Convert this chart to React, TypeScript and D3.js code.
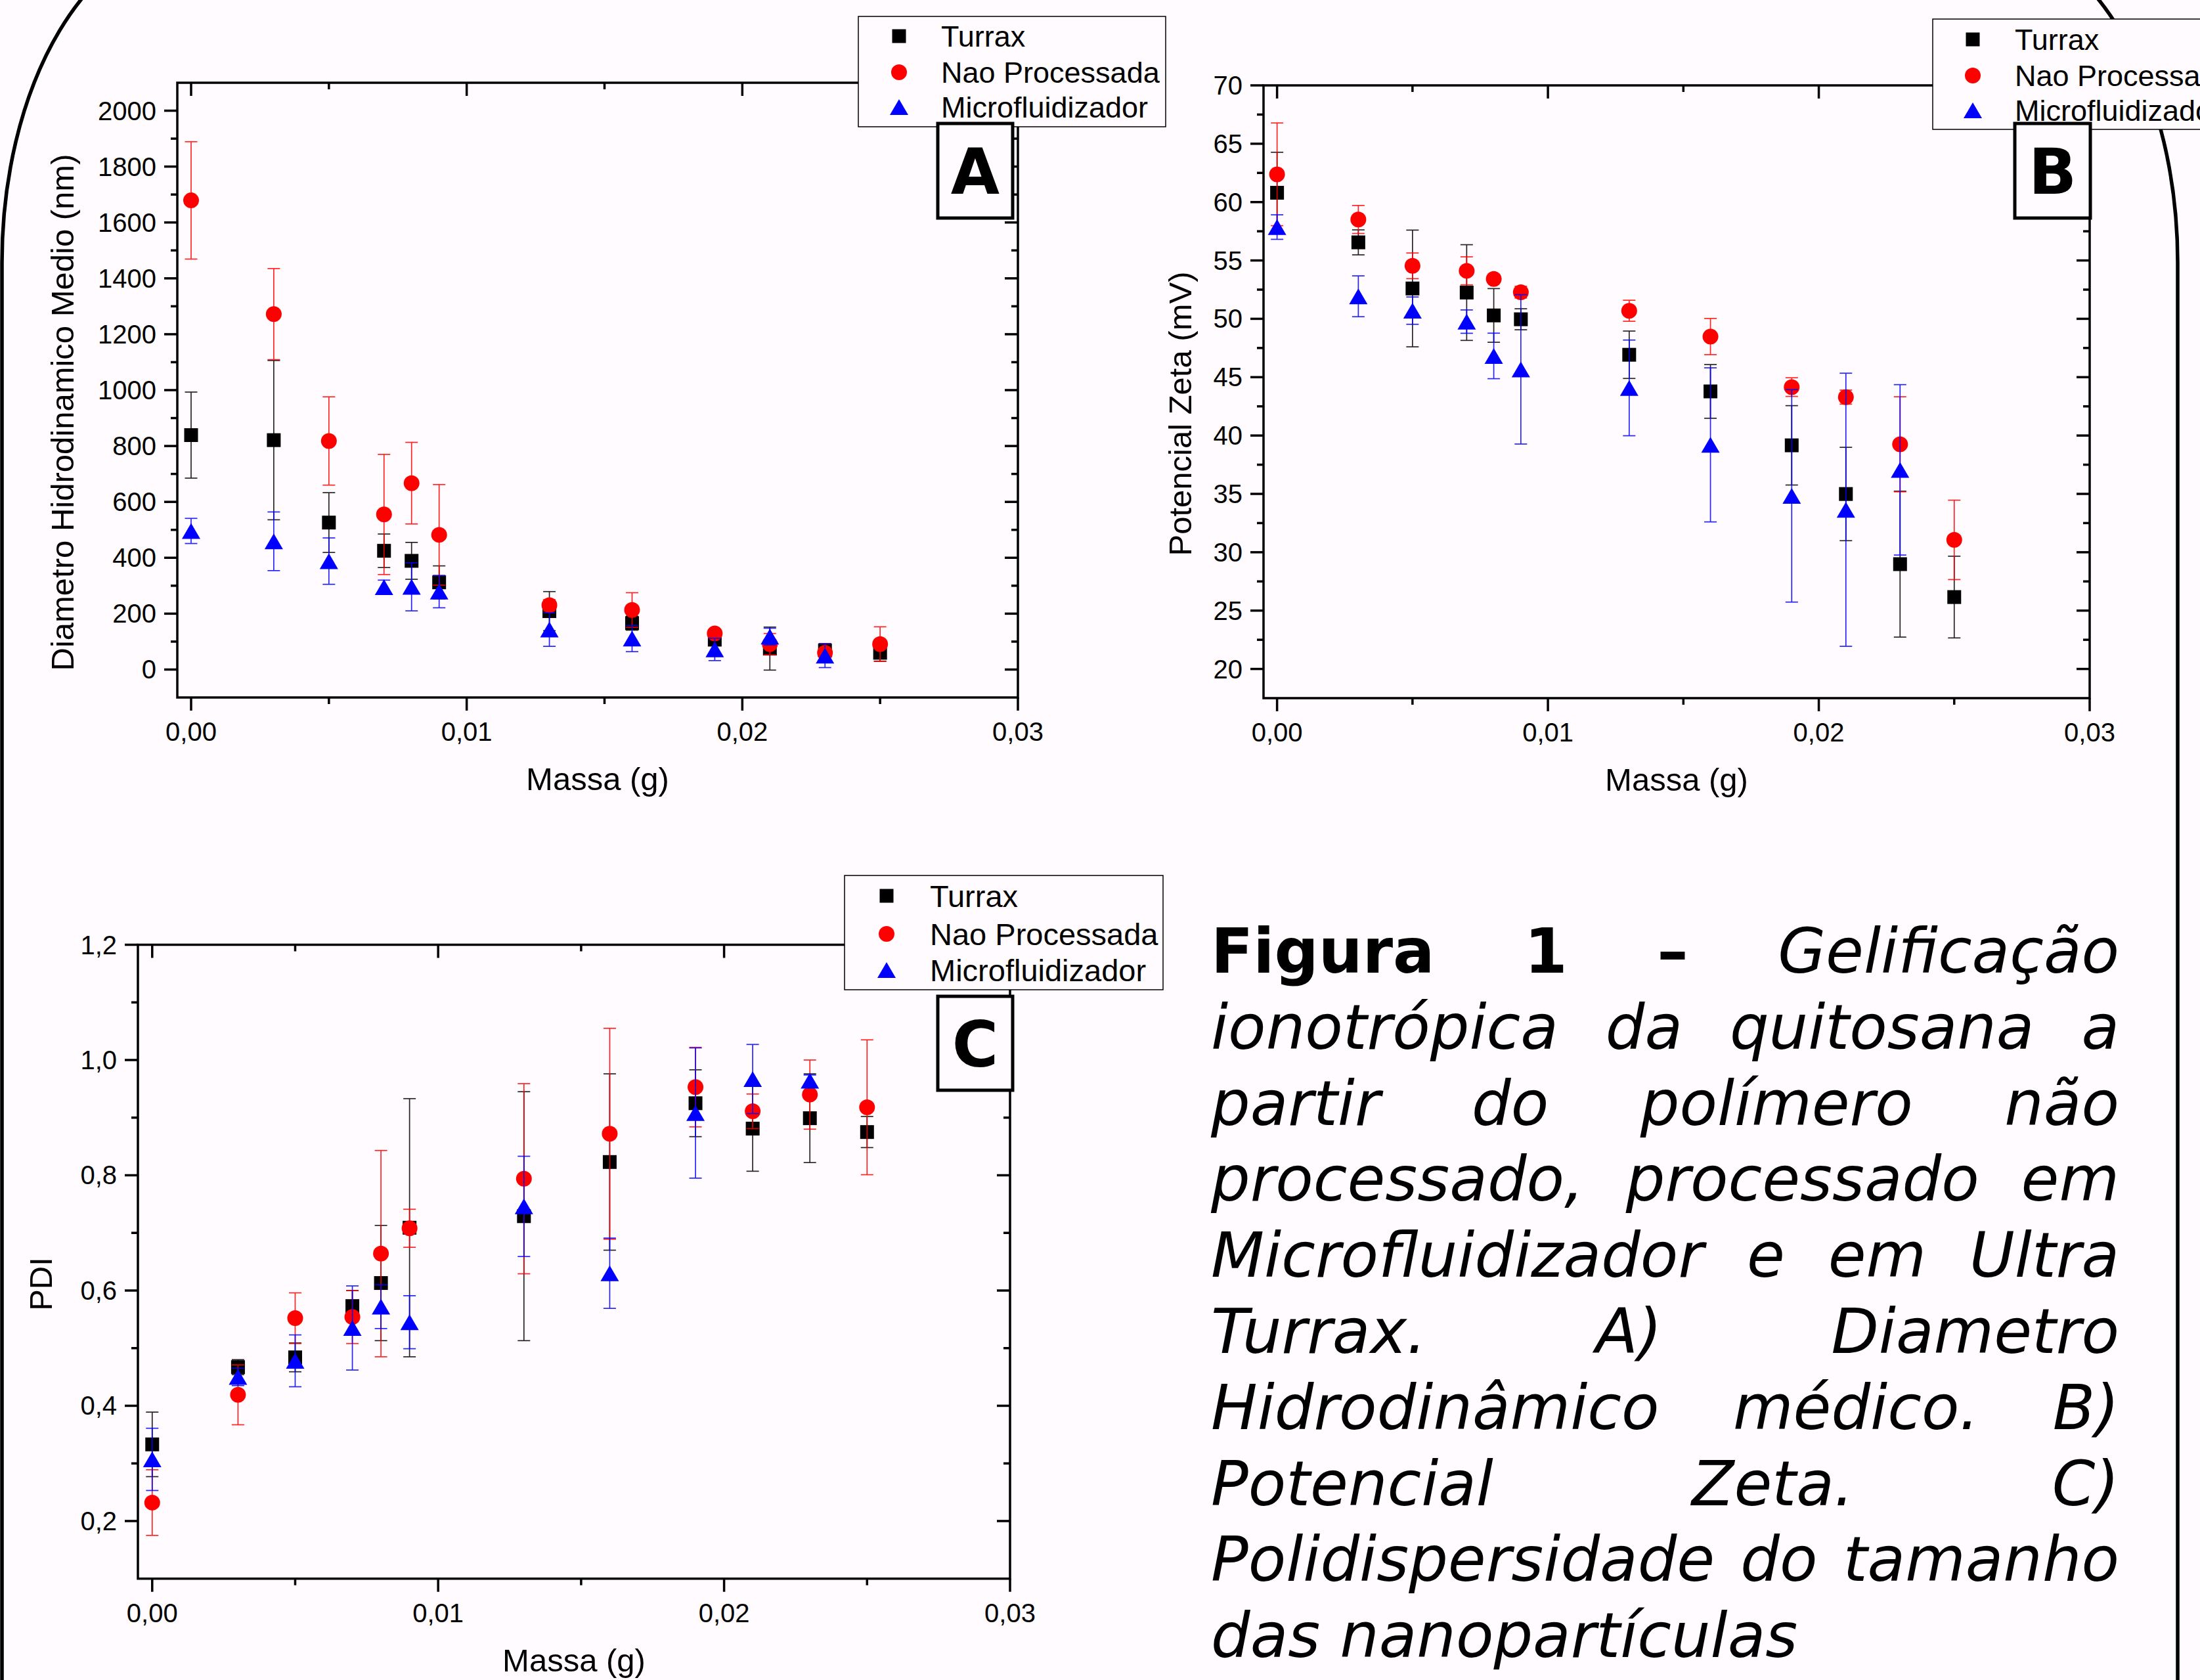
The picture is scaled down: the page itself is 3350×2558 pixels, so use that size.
import React, { useEffect, useMemo } from 'react';
import * as d3 from 'd3';

// ---------------- DATA ----------------
const mass = [0, 0.003, 0.005, 0.007, 0.008, 0.009, 0.013, 0.016, 0.019, 0.021, 0.023, 0.025];
const massMicro = [0, 0.003, 0.005, 0.007, 0.008, 0.009, 0.013, 0.016, 0.019, 0.021, 0.023];

const seriesNames = ['Turrax', 'Nao Processada', 'Microfluidizador'];

// Panel A - Diametro hidrodinamico medio (nm)
const turraxD = [839, 821, 526, 425, 389, 312, 209, 166, 107, 75, 68, 60];
const turraxDErr = [154, 285, 107, 60, 66, 59, 70, 25, 20, 77, 15, 30];
const naoD = [1679, 1272, 818, 555, 667, 482, 230, 213, 129, 91, 60, 91];
const naoDErr = [210, 163, 158, 215, 146, 180, 20, 62, 10, 38, 33, 62];
const microD = [496, 459, 388, 295, 296, 279, 143, 111, 72, 118, 50];
const microDErr = [45, 105, 83, 25, 86, 58, 60, 47, 40, 30, 43];

// Panel B - Potencial Zeta (mV)
const turraxZ = [60.8, 56.55, 52.6, 52.25, 50.29, 49.96, 46.92, 43.78, 39.16, 34.99, 28.98, 26.16];
const turraxZErr = [3.47, 1.07, 5.0, 4.1, 2.3, 0.9, 2.03, 2.3, 3.4, 4.0, 6.25, 3.5];
const naoZ = [62.38, 58.51, 54.54, 54.11, 53.41, 52.28, 50.69, 48.48, 44.15, 43.29, 39.25, 31.06];
const naoZErr = [4.4, 1.2, 1.1, 1.2, 0.3, 0.5, 0.9, 1.55, 0.8, 0.6, 4.07, 3.4];
const microZ = [57.86, 51.93, 50.7, 49.76, 46.82, 45.67, 44.08, 39.2, 34.83, 33.64, 37.06];
const microZErr = [1.05, 1.75, 1.17, 1.0, 1.95, 6.4, 4.1, 6.6, 9.1, 11.7, 7.3];

// Panel C - PDI
const turraxP = [0.333, 0.467, 0.484, 0.573, 0.613, 0.709, 0.729, 0.823, 0.925, 0.881, 0.899, 0.875];
const turraxPErr = [0.056, 0.013, 0.025, 0.027, 0.1, 0.224, 0.216, 0.153, 0.058, 0.074, 0.077, 0.027];
const naoP = [0.232, 0.419, 0.552, 0.554, 0.664, 0.708, 0.794, 0.872, 0.953, 0.911, 0.94, 0.918];
const naoPErr = [0.057, 0.052, 0.044, 0.046, 0.179, 0.033, 0.165, 0.183, 0.069, 0.03, 0.06, 0.117];
const microP = [0.307, 0.45, 0.478, 0.535, 0.572, 0.545, 0.746, 0.63, 0.908, 0.967, 0.964];
const microPErr = [0.054, 0.015, 0.045, 0.073, 0.038, 0.046, 0.087, 0.061, 0.113, 0.06, 0.01];

const xMajor = [0, 0.01, 0.02, 0.03];
const xMinor = [0.005, 0.015, 0.025];

const captionLines = [
  [['Figura', 'b'], ['1', 'b'], ['–', 'b'], ['Gelificação', 'i']],
  [['ionotrópica', 'i'], ['da', 'i'], ['quitosana', 'i'], ['a', 'i']],
  [['partir', 'i'], ['do', 'i'], ['polímero', 'i'], ['não', 'i']],
  [['processado,', 'i'], ['processado', 'i'], ['em', 'i']],
  [['Microfluidizador', 'i'], ['e', 'i'], ['em', 'i'], ['Ultra', 'i']],
  [['Turrax.', 'i'], ['A)', 'i'], ['Diametro', 'i']],
  [['Hidrodinâmico', 'i'], ['médico.', 'i'], ['B)', 'i']],
  [['Potencial', 'i'], ['Zeta.', 'i'], ['C)', 'i']],
  [['Polidispersidade', 'i'], ['do', 'i'], ['tamanho', 'i']],
  [['das', 'i'], ['nanopartículas', 'i']],
];

// ---------------- STYLE ----------------
const W = 3350;
const H = 2558;
const BG = '#fffbfe';
const COLORS = ['#000000', '#ff0000', '#0000ff'];
const FONT = "'Liberation Sans', Arial, sans-serif";
const CAP_FONT = "'DejaVu Sans', Verdana, sans-serif";

function Marker({ kind, cx, cy, color }) {
  if (kind === 0) return <rect x={cx - 10.5} y={cy - 10.5} width={21} height={21} fill={color} />;
  if (kind === 1) return <circle cx={cx} cy={cy} r={12} fill={color} />;
  const w = 28, h = 24;
  return <path d={`M${cx},${cy - h / 2}L${cx + w / 2},${cy + h / 2}L${cx - w / 2},${cy + h / 2}Z`} fill={color} />;
}

function Panel({ box, yDomain, yMajor, yMinor, yFmt, data, yTitle, yTitlePos, legend, label }) {
  const x = d3.scaleLinear().domain([-0.0005, 0.03]).range([box.left, box.right]);
  const y = d3.scaleLinear().domain(yDomain).range([box.bottom, box.top]);
  const sw = 3.5;
  const tickMaj = 20, tickMin = 10;
  const cap = 9.5;
  const xf = (d) => d.toFixed(2).replace('.', ',');
  return (
    <g>
      {/* data */}
      {data.map((s, si) => (
        <g key={si}>
          {s.xs.map((xv, i) => {
            const cx = x(xv);
            const y1 = y(s.ys[i] + s.err[i]);
            const y2 = y(s.ys[i] - s.err[i]);
            return (
              <g key={'e' + i} stroke={COLORS[si]} strokeWidth={1.7} opacity={0.85}>
                <line x1={cx} x2={cx} y1={y1} y2={y2} />
                <line x1={cx - cap} x2={cx + cap} y1={y1} y2={y1} />
                <line x1={cx - cap} x2={cx + cap} y1={y2} y2={y2} />
              </g>
            );
          })}
          {s.xs.map((xv, i) => (
            <Marker key={'m' + i} kind={si} cx={x(xv)} cy={y(s.ys[i])} color={COLORS[si]} />
          ))}
        </g>
      ))}
      {/* frame */}
      <rect x={box.left} y={box.top} width={box.right - box.left} height={box.bottom - box.top}
        fill="none" stroke="#000" strokeWidth={sw} />
      {/* x ticks */}
      {xMajor.map((t) => (
        <g key={'xM' + t} stroke="#000" strokeWidth={sw}>
          <line x1={x(t)} x2={x(t)} y1={box.bottom} y2={box.bottom + tickMaj} />
          <line x1={x(t)} x2={x(t)} y1={box.top} y2={box.top + tickMaj} />
        </g>
      ))}
      {xMinor.map((t) => (
        <g key={'xm' + t} stroke="#000" strokeWidth={sw}>
          <line x1={x(t)} x2={x(t)} y1={box.bottom} y2={box.bottom + tickMin} />
          <line x1={x(t)} x2={x(t)} y1={box.top} y2={box.top + tickMin} />
        </g>
      ))}
      {xMajor.map((t) => (
        <text key={'xl' + t} x={x(t)} y={box.bottom + 66} textAnchor="middle" fontFamily={FONT} fontSize={40}>{xf(t)}</text>
      ))}
      {/* y ticks */}
      {yMajor.map((t) => (
        <g key={'yM' + t} stroke="#000" strokeWidth={sw}>
          <line x1={box.left} x2={box.left - tickMaj} y1={y(t)} y2={y(t)} />
          <line x1={box.right} x2={box.right - tickMaj} y1={y(t)} y2={y(t)} />
        </g>
      ))}
      {yMinor.map((t) => (
        <g key={'ym' + t} stroke="#000" strokeWidth={sw}>
          <line x1={box.left} x2={box.left - tickMin} y1={y(t)} y2={y(t)} />
          <line x1={box.right} x2={box.right - tickMin} y1={y(t)} y2={y(t)} />
        </g>
      ))}
      {yMajor.map((t) => (
        <text key={'yl' + t} x={box.left - 32} y={y(t) + 14} textAnchor="end" fontFamily={FONT} fontSize={40}>{yFmt(t)}</text>
      ))}
      {/* titles */}
      <text x={(box.left + box.right) / 2} y={box.bottom + 141} textAnchor="middle" fontFamily={FONT} fontSize={49}>Massa (g)</text>
      <text transform={`translate(${yTitlePos[0]},${yTitlePos[1]}) rotate(-90)`} textAnchor="middle" fontFamily={FONT} fontSize={49}>{yTitle}</text>
      {/* legend */}
      <rect x={legend.x} y={legend.y} width={legend.w} height={legend.h} fill={BG} stroke="#000" strokeWidth={1.5} />
      {seriesNames.map((n, i) => (
        <g key={'lg' + i}>
          <Marker kind={i} cx={legend.sx} cy={legend.rows[i]} color={COLORS[i]} />
          <text x={legend.tx} y={legend.rows[i] + legend.fs * 0.36} fontFamily={FONT} fontSize={legend.fs}>{n}</text>
        </g>
      ))}
      {/* label box */}
      <rect x={label.x} y={label.y} width={label.w} height={label.h} fill={BG} stroke="#000" strokeWidth={5} />
      <text x={label.x + label.w / 2} y={label.y + label.h / 2 + 35} textAnchor="middle"
        fontFamily={CAP_FONT} fontWeight="bold" fontSize={96}>{label.t}</text>
    </g>
  );
}

function Caption() {
  const left = 1844, right = 3227, base0 = 1481, gap = 115.8, fs = 94;
  const layout = useMemo(() => {
    const cv = document.createElement('canvas');
    const ctx = cv.getContext('2d');
    return captionLines.map((words, li) => {
      const widths = words.map(([w, s]) => {
        ctx.font = (s === 'b' ? 'bold ' : 'italic ') + fs + "px 'DejaVu Sans'";
        return ctx.measureText(w).width;
      });
      const total = widths.reduce((a, b) => a + b, 0);
      const last = li === captionLines.length - 1;
      const sp = last ? fs * 0.318 : (right - left - total) / Math.max(1, words.length - 1);
      let cx = left;
      return words.map(([w, s], i) => {
        const pos = cx;
        cx += widths[i] + sp;
        return { w, s, x: pos };
      });
    });
  }, []);
  return (
    <g>
      {layout.map((line, li) => line.map((wd, wi) => (
        <text key={li + '-' + wi} x={wd.x} y={base0 + li * gap} fontFamily={CAP_FONT} fontSize={fs}
          fontStyle={wd.s === 'i' ? 'italic' : 'normal'} fontWeight={wd.s === 'b' ? 'bold' : 'normal'}>{wd.w}</text>
      )))}
    </g>
  );
}

export default function App() {
  useEffect(() => {
    document.body.style.margin = '0';
    document.body.style.background = BG;
  }, []);

  const mk = (a, ae, b, be, c, ce) => [
    { xs: mass, ys: a, err: ae },
    { xs: mass, ys: b, err: be },
    { xs: massMicro, ys: c, err: ce },
  ];

  return (
    <svg width={W} height={H} viewBox={`0 0 ${W} ${H}`} style={{ position: 'absolute', left: 0, top: 0, display: 'block' }}>
      <rect x={0} y={0} width={W} height={H} fill={BG} />
      {/* decorative outer frame */}
      <path d="M3,2600 L3,400 A300,500 0 0 1 303,-100 L3016,-100 A300,500 0 0 1 3316,400 L3316,2600"
        fill="none" stroke="#000" strokeWidth={5.5} />
      <Panel
        box={{ left: 270, right: 1550, top: 126, bottom: 1062 }}
        yDomain={[-100, 2100]}
        yMajor={d3.range(0, 2001, 200)}
        yMinor={d3.range(100, 2001, 200)}
        yFmt={(d) => String(d)}
        data={mk(turraxD, turraxDErr, naoD, naoDErr, microD, microDErr)}
        yTitle="Diametro Hidrodinamico Medio (nm)"
        yTitlePos={[112, 628]}
        legend={{ x: 1307, y: 25, w: 468, h: 168, sx: 1369, tx: 1433, rows: [55, 110, 163], fs: 45 }}
        label={{ x: 1428, y: 188, w: 114, h: 144, t: 'A' }}
      />
      <Panel
        box={{ left: 1924, right: 3182, top: 130, bottom: 1063 }}
        yDomain={[17.5, 70]}
        yMajor={d3.range(20, 70.1, 5)}
        yMinor={d3.range(22.5, 70, 5)}
        yFmt={(d) => String(d)}
        data={mk(turraxZ, turraxZErr, naoZ, naoZErr, microZ, microZErr)}
        yTitle="Potencial Zeta (mV)"
        yTitlePos={[1814, 630]}
        legend={{ x: 2943, y: 29, w: 468, h: 168, sx: 3004, tx: 3068, rows: [60, 115, 168], fs: 45 }}
        label={{ x: 3068, y: 188, w: 115, h: 144, t: 'B' }}
      />
      <Panel
        box={{ left: 210, right: 1538, top: 1438.5, bottom: 2403.7 }}
        yDomain={[0.1, 1.2]}
        yMajor={[0.2, 0.4, 0.6, 0.8, 1.0, 1.2]}
        yMinor={[0.3, 0.5, 0.7, 0.9, 1.1]}
        yFmt={(d) => d.toFixed(1).replace('.', ',')}
        data={mk(turraxP, turraxPErr, naoP, naoPErr, microP, microPErr)}
        yTitle="PDI"
        yTitlePos={[79, 1955]}
        legend={{ x: 1286, y: 1333, w: 485, h: 174, sx: 1350, tx: 1416, rows: [1364, 1422, 1477], fs: 47 }}
        label={{ x: 1428, y: 1517, w: 114, h: 143, t: 'C' }}
      />
      <Caption />
    </svg>
  );
}
